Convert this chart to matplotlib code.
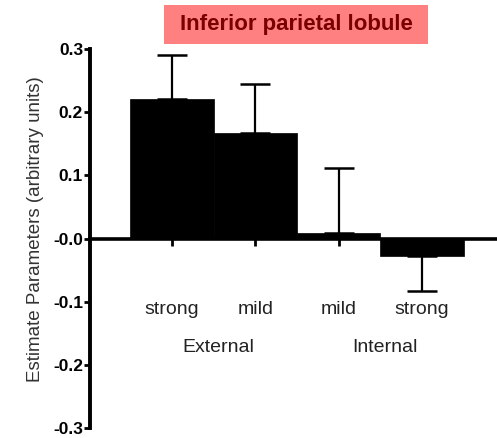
import matplotlib
matplotlib.use("Agg")
import matplotlib.pyplot as plt
from matplotlib.patches import Rectangle

categories = ["strong", "mild", "mild", "strong"]
groups = ["External", "Internal"]
values = [0.221, 0.167, 0.008, -0.028]
errors = [0.070, 0.077, 0.104, 0.055]
yticks = [-0.3, -0.2, -0.1, 0.0, 0.1, 0.2, 0.3]
ytick_labels = ["-0.3", "-0.2", "-0.1", "-0.0", "0.1", "0.2", "0.3"]
title = "Inferior parietal lobule"
ylabel = "Estimate Parameters (arbitrary units)"

plt.rcParams['font.family'] = ['Liberation Sans', 'DejaVu Sans']

W, H = 497, 438
fig = plt.figure(figsize=(W / 100, H / 100), dpi=100)
ax = fig.add_axes([90 / W, 10 / H, 407 / W, 379 / H])

x = list(range(len(values)))
ax.bar(x, values, width=1.0, color="black", edgecolor="black", linewidth=0.5, zorder=2)
for xi, v, e in zip(x, values, errors):
    sign = 1 if v >= 0 else -1
    ax.errorbar([xi], [v], yerr=[[0], [e]] if sign > 0 else [[e], [0]],
                fmt="none", ecolor="black", elinewidth=1.6, capsize=11,
                capthick=1.8, zorder=1)

ax.set_xlim(-0.984, 3.9)
ax.set_ylim(-0.3, 0.3)
ax.set_yticks(yticks)
ax.set_yticklabels(ytick_labels, fontweight="bold", fontsize=12.5)
ax.set_xticks(x)
ax.set_xticklabels([])
ax.spines["top"].set_visible(False)
ax.spines["right"].set_visible(False)
ax.spines["bottom"].set_position(("data", 0))
ax.spines["left"].set_linewidth(2.8)
ax.spines["bottom"].set_linewidth(2.6)
ax.tick_params(axis="y", direction="out", length=4, width=2, pad=1, colors="black")
ax.tick_params(axis="x", direction="out", length=5, width=2)

for xi, c in zip(x, categories):
    ax.text(xi, -0.113, c, ha="center", va="center", fontsize=14, color="#222222")
ax.text(0.55, -0.173, groups[0], ha="center", va="center", fontsize=14, color="#222222")
ax.text(2.55, -0.173, groups[1], ha="center", va="center", fontsize=14, color="#222222")

fig.text(36 / W, 1 - 229 / H, ylabel, rotation=90, ha="center", va="center",
         fontsize=13.5, color="#333333")

fig.patches.append(Rectangle((164 / W, 1 - 44 / H), 264 / W, 39 / H,
                             transform=fig.transFigure, facecolor="#ff8080",
                             edgecolor="none"))
fig.text(296 / W, 1 - 24.5 / H, title, ha="center", va="center", fontsize=16,
         fontweight="bold", color="#7a0000")

fig.savefig("out.png", dpi=100)
